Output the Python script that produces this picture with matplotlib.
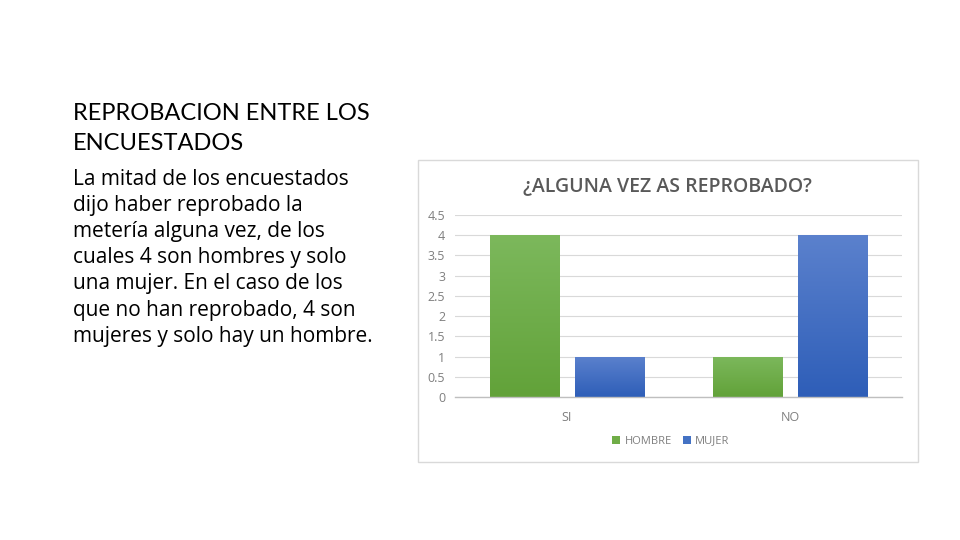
import matplotlib
matplotlib.use("Agg")
import matplotlib.pyplot as plt
from matplotlib.patches import Rectangle
from matplotlib.colors import LinearSegmentedColormap
import numpy as np

categories = ["SI", "NO"]
hombre = [4, 1]
mujer = [1, 4]
yticks = [0, 0.5, 1, 1.5, 2, 2.5, 3, 3.5, 4, 4.5]

heading = "REPROBACION ENTRE LOS\nENCUESTADOS"
body = ("La mitad de los encuestados\ndijo haber reprobado la\nmetería alguna vez, de los\n"
        "cuales 4 son hombres y solo\nuna mujer. En el caso de los\nque no han reprobado, 4 son\n"
        "mujeres y solo hay un hombre.")
chart_title = "¿ALGUNA VEZ AS REPROBADO?"

W, H = 960, 540
fig = plt.figure(figsize=(9.6, 5.4), dpi=100)
fig.patch.set_facecolor("white")

# chart frame
fig.patches.append(Rectangle((418 / W, 1 - 462 / H), 500 / W, 302 / H,
                             transform=fig.transFigure, fill=False,
                             edgecolor="#d9d9d9", linewidth=1.0))

fig.text(73 / W, 1 - 103 / H, heading, fontsize=17, family="Lato",
         va="top", ha="left", color="black", linespacing=1.5)
fig.text(73 / W, 1 - 169 / H, body, fontsize=15, family="Open Sans",
         va="top", ha="left", color="black", linespacing=1.32)

fig.text(667 / W, 1 - 186 / H, chart_title, fontsize=14, family="Open Sans",
         ha="center", va="center", color="#595959", fontweight="semibold")

ax = fig.add_axes([455 / W, 1 - 397 / H, 447 / W, (397 - 215) / H])
x = np.arange(len(categories))
bw = 0.31
off = 0.19
green_cmap = LinearSegmentedColormap.from_list("g", ["#62a239", "#7cb85c"])
blue_cmap = LinearSegmentedColormap.from_list("b", ["#2e5eb8", "#5b81cd"])
b1 = ax.bar(x - off, hombre, bw, color="#70AD47", label="HOMBRE", zorder=3)
b2 = ax.bar(x + off, mujer, bw, color="#4472C4", label="MUJER", zorder=3)
grad = np.linspace(0, 1, 256).reshape(-1, 1)
for bars, cmap in ((b1, green_cmap), (b2, blue_cmap)):
    for p in bars:
        x0, y0 = p.get_x(), p.get_y()
        w, h = p.get_width(), p.get_height()
        im = ax.imshow(grad, cmap=cmap, origin="lower", aspect="auto",
                       extent=(x0, x0 + w, y0, y0 + h), zorder=4)
        im.set_clip_path(p)
ax.set_xlim(-0.5, 1.5)
ax.set_ylim(0, 4.5)
ax.set_yticks(yticks)
ax.set_yticklabels([f"{v:g}" for v in yticks])
ax.set_xticks(x)
ax.set_xticklabels(categories)
ax.tick_params(axis="both", length=0, labelsize=9, labelcolor="#7f7f7f")
ax.tick_params(axis="y", pad=7)
ax.tick_params(axis="x", pad=10)
for lab in ax.get_xticklabels() + ax.get_yticklabels():
    lab.set_family("Open Sans")
ax.grid(axis="y", color="#d9d9d9", linewidth=0.8, zorder=0)
for s in ["top", "right", "left"]:
    ax.spines[s].set_visible(False)
ax.spines["bottom"].set_color("#bfbfbf")
ax.spines["bottom"].set_linewidth(1.0)
ax.spines["bottom"].set_zorder(5)
ax.set_facecolor("none")

leg = fig.legend(handles=[b1, b2], labels=["HOMBRE", "MUJER"], loc="center",
                 bbox_to_anchor=(671 / W, 1 - 441 / H), ncol=2,
                 frameon=False, handlelength=0.7, handleheight=0.7,
                 handletextpad=0.4, columnspacing=1.0,
                 prop={"family": "Open Sans", "size": 8})
for t in leg.get_texts():
    t.set_color("#7f7f7f")

fig.savefig("out.png", dpi=100)
